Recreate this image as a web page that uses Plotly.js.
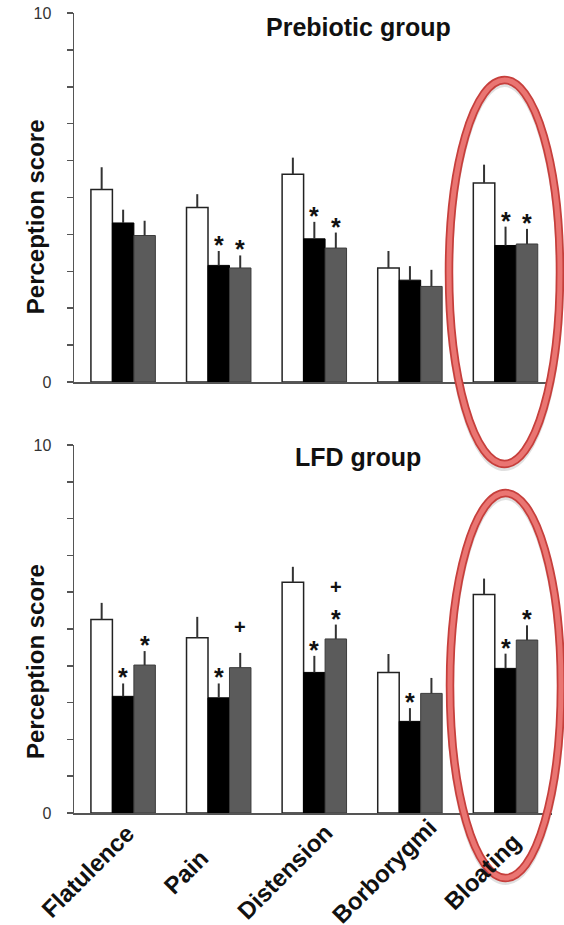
<!DOCTYPE html>
<html>
<head>
<meta charset="utf-8">
<script src="https://cdn.plot.ly/plotly-3.0.1.min.js"></script>
<style>
html,body{margin:0;padding:0;background:#fff;}
#chart{width:564px;height:925px;}
</style>
</head>
<body>
<div id="chart"></div>
<script>
// ---------- data ----------
const categories = ['Flatulence', 'Pain', 'Distension', 'Borborygmi', 'Bloating'];
const yTickVals = [0, 1, 2, 3, 4, 5, 6, 7, 8, 9, 10];
const yTickText = ['0', '', '', '', '', '', '', '', '', '', '10'];

// Prebiotic group
const preWhite    = [5.22, 4.73, 5.63, 3.09, 5.39];
const preWhiteErr = [0.60, 0.36, 0.45, 0.46, 0.50];
const preBlack    = [4.31, 3.16, 3.88, 2.76, 3.70];
const preBlackErr = [0.36, 0.39, 0.46, 0.38, 0.51];
const preGray     = [3.97, 3.09, 3.63, 2.59, 3.74];
const preGrayErr  = [0.40, 0.34, 0.42, 0.45, 0.41];
const preBlackSig = ['', '*', '*', '', '*'];
const preGraySig  = ['', '*', '*', '', '*'];
const preGrayPlus = ['', '', '', '', ''];

// LFD group
const lfdWhite    = [5.26, 4.76, 6.27, 3.82, 5.94];
const lfdWhiteErr = [0.45, 0.57, 0.42, 0.50, 0.43];
const lfdBlack    = [3.17, 3.13, 3.82, 2.49, 3.93];
const lfdBlackErr = [0.35, 0.39, 0.45, 0.36, 0.40];
const lfdGray     = [4.02, 3.95, 4.73, 3.25, 4.70];
const lfdGrayErr  = [0.38, 0.40, 0.39, 0.42, 0.40];
const lfdBlackSig = ['*', '*', '*', '*', '*'];
const lfdGraySig  = ['*', '', '*', '', '*'];
const lfdGrayPlus = ['', '+', '+', '', ''];

const panelTitles = ['Prebiotic group', 'LFD group'];
const yTitle = 'Perception score';

// ---------- styling ----------
const FONT = 'Liberation Sans, Arial, Helvetica, sans-serif';
const BARGAP = 0.326;
const BW = (1 - BARGAP) / 3;
const AXIS = '#555';

function barTrace(vals, errs, color, lineColor, lineWidth, xa, ya) {
  return {
    type: 'bar', x: categories, y: vals, xaxis: xa, yaxis: ya,
    marker: {color: color, line: {color: lineColor, width: lineWidth}},
    error_y: {type: 'data', symmetric: false, array: errs, arrayminus: errs.map(() => 0),
              color: '#333', thickness: 2, width: 0},
    showlegend: false, hoverinfo: 'skip'
  };
}

const data = [
  barTrace(preWhite, preWhiteErr, '#ffffff', '#222', 1.5, 'x', 'y'),
  barTrace(preBlack, preBlackErr, '#000000', '#000', 1, 'x', 'y'),
  barTrace(preGray, preGrayErr, '#5b5b5b', '#3c3c3c', 1, 'x', 'y'),
  barTrace(lfdWhite, lfdWhiteErr, '#ffffff', '#222', 1.5, 'x2', 'y2'),
  barTrace(lfdBlack, lfdBlackErr, '#000000', '#000', 1, 'x2', 'y2'),
  barTrace(lfdGray, lfdGrayErr, '#5b5b5b', '#3c3c3c', 1, 'x2', 'y2')
];

const annotations = [];
function addSig(xa, ya, marks, vals, errs, xoff, shiftFn, size) {
  marks.forEach((m, i) => {
    if (!m) return;
    annotations.push({
      xref: xa, yref: ya, x: i + xoff, y: vals[i] + errs[i],
      text: '<b>' + m + '</b>', showarrow: false,
      xanchor: 'center', yanchor: 'middle', yshift: shiftFn(i),
      font: {family: FONT, size: size, color: '#111'}
    });
  });
}
const STAR_SHIFT = () => 6;
addSig('x', 'y', preBlackSig, preBlack, preBlackErr, 0, STAR_SHIFT, 25);
addSig('x', 'y', preGraySig, preGray, preGrayErr, BW, STAR_SHIFT, 25);
addSig('x', 'y', preGrayPlus, preGray, preGrayErr, BW, i => (preGraySig[i] ? 38 : 26), 20);
addSig('x2', 'y2', lfdBlackSig, lfdBlack, lfdBlackErr, 0, STAR_SHIFT, 25);
addSig('x2', 'y2', lfdGraySig, lfdGray, lfdGrayErr, BW, STAR_SHIFT, 25);
addSig('x2', 'y2', lfdGrayPlus, lfdGray, lfdGrayErr, BW, i => (lfdGraySig[i] ? 38 : 26), 20);

// panel titles
annotations.push({xref: 'paper', yref: 'paper', x: 0.595, y: 0.982, text: '<b>' + panelTitles[0] + '</b>',
  showarrow: false, xanchor: 'center', yanchor: 'middle', font: {family: FONT, size: 25, color: '#111'}});
annotations.push({xref: 'paper', yref: 'paper', x: 0.595, y: 0.4453, text: '<b>' + panelTitles[1] + '</b>',
  showarrow: false, xanchor: 'center', yanchor: 'middle', font: {family: FONT, size: 25, color: '#111'}});
// y titles
[0.746, 0.19].forEach(yy => annotations.push({xref: 'paper', yref: 'paper', x: -0.0816, y: yy,
  text: '<b>' + yTitle + '</b>', textangle: -90, showarrow: false, xanchor: 'center', yanchor: 'middle',
  font: {family: FONT, size: 24, color: '#111'}}));
// x category labels (bottom panel)
categories.forEach((c, i) => annotations.push({xref: 'x2', yref: 'y2', x: i, y: 0,
  xshift: -36 + 3.2 * i, yshift: -58,
  text: '<b>' + c + '</b>', textangle: -45, showarrow: false, xanchor: 'center', yanchor: 'middle',
  font: {family: FONT, size: 24, color: '#111'}}));

// highlight ellipses (paper coords)
function ellipse(x0, x1, y0, y1) {
  const dy = 3 / 800;
  return [
    {type: 'circle', xref: 'paper', yref: 'paper', x0: x0, x1: x1, y0: y0 - dy, y1: y1 - dy, layer: 'above',
     line: {color: 'rgba(0,0,0,0.12)', width: 8}},
    {type: 'circle', xref: 'paper', yref: 'paper', x0: x0, x1: x1, y0: y0, y1: y1, layer: 'above',
     line: {color: '#c63f3c', width: 8.5}},
    {type: 'circle', xref: 'paper', yref: 'paper', x0: x0, x1: x1, y0: y0, y1: y1, layer: 'above',
     line: {color: '#ea7572', width: 5}}
  ];
}
const shapes = [].concat(
  ellipse(0.7845, 1.0167, 0.43625, 0.91625),
  ellipse(0.7866, 1.0188, -0.08125, 0.40)
);

const yaxisBase = {
  range: [0, 10], tickvals: yTickVals, ticktext: yTickText, ticks: 'outside', ticklen: 6,
  tickwidth: 1.5, tickcolor: AXIS, showline: true, linecolor: AXIS, linewidth: 1.5,
  showgrid: false, zeroline: false, fixedrange: true, ticklabelstandoff: 12,
  tickfont: {family: FONT, size: 16, color: '#333'}
};
const xaxisBase = {
  range: [-0.514, 4.486], showline: true, linecolor: AXIS, linewidth: 1.5, ticks: '',
  showticklabels: false, showgrid: false, zeroline: false, fixedrange: true
};

const layout = {
  width: 564, height: 925,
  margin: {l: 74, r: 12, t: 13, b: 112},
  paper_bgcolor: '#ffffff', plot_bgcolor: 'rgba(0,0,0,0)',
  font: {family: FONT, color: '#111'},
  showlegend: false, barmode: 'group', bargap: BARGAP, bargroupgap: 0,
  xaxis: Object.assign({}, xaxisBase, {domain: [0, 1], anchor: 'y'}),
  yaxis: Object.assign({}, yaxisBase, {domain: [0.53875, 1], anchor: 'x'}),
  xaxis2: Object.assign({}, xaxisBase, {domain: [0, 1], anchor: 'y2'}),
  yaxis2: Object.assign({}, yaxisBase, {domain: [0, 0.46], anchor: 'x2'}),
  annotations: annotations,
  shapes: shapes
};

const gd = document.getElementById('chart');
Plotly.newPlot(gd, data, layout, {displayModeBar: false, staticPlot: true}).then(() => {
  // keep the highlight ellipses on top of the category labels, as in the original
  const svg = gd.querySelector('.main-svg');
  const above = svg && svg.querySelector('.layer-above');
  if (svg && above) svg.appendChild(above);
});
</script>
</body>
</html>
